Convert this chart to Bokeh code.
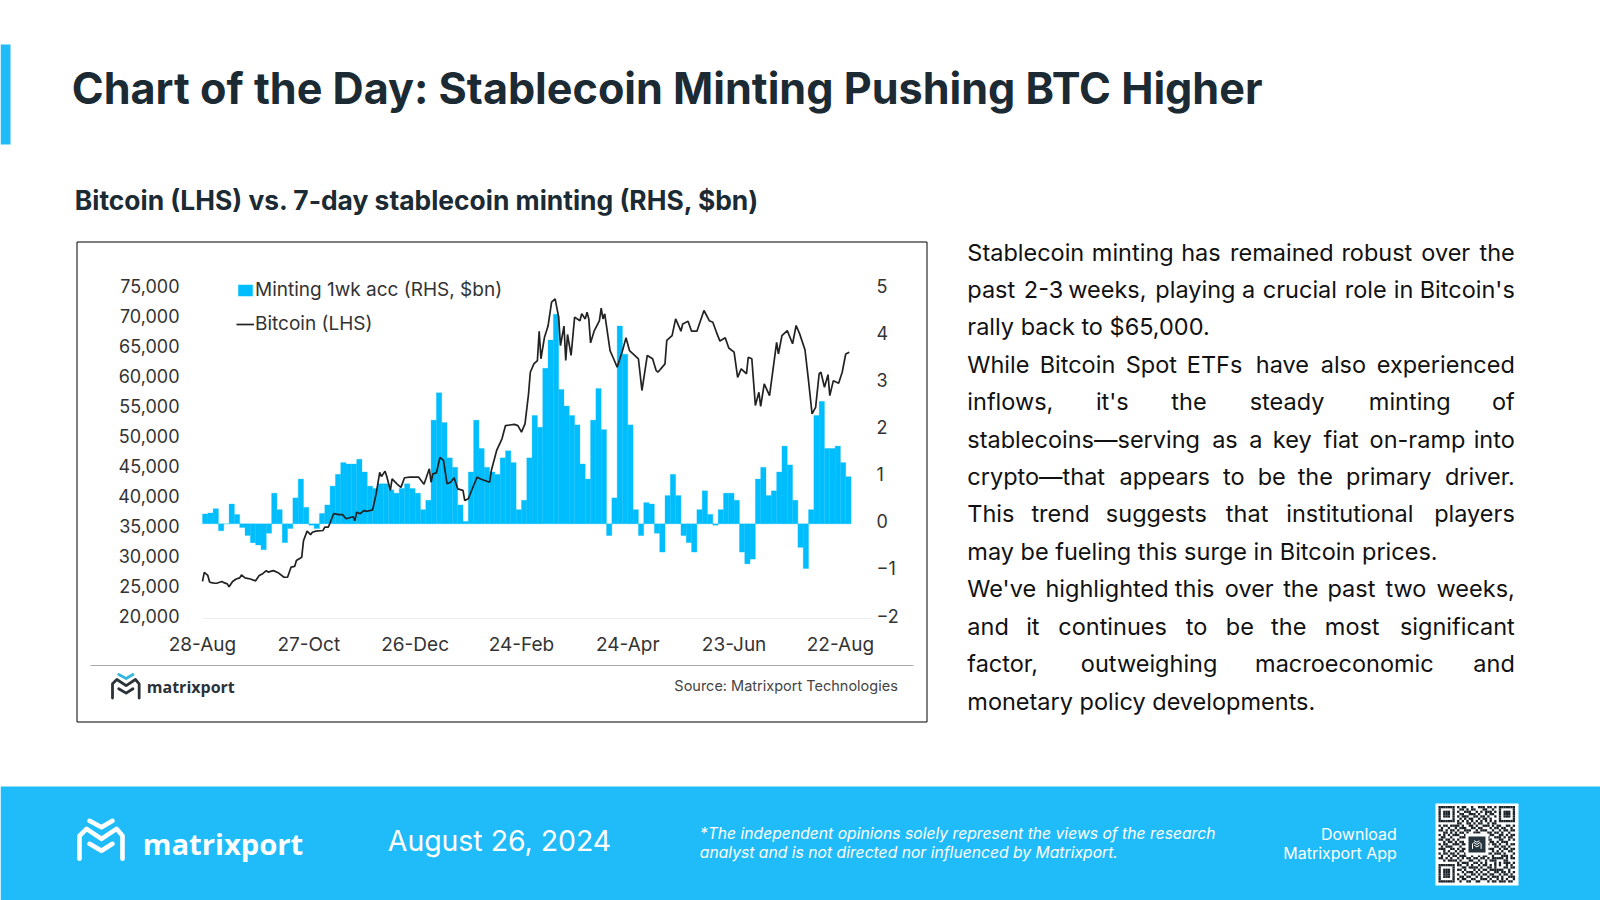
from bokeh.core.properties import value
from bokeh.embed import file_html
from bokeh.models import (FixedTicker, Legend, LegendItem, LinearAxis, NumeralTickFormatter,
                          Range1d)
from bokeh.plotting import figure
from bokeh.resources import INLINE

# chart data
tick_days = [0, 60, 120, 180, 240, 300, 360]
tick_labels = ["28-Aug", "27-Oct", "26-Dec", "24-Feb", "24-Apr", "23-Jun", "22-Aug"]
btc_ticks = [20000, 25000, 30000, 35000, 40000, 45000, 50000, 55000, 60000, 65000, 70000, 75000]
mint_ticks = [-2, -1, 0, 1, 2, 3, 4, 5]

# 3-day buckets of the 1wk minting, $bn
mint_values = [
    0.21, 0.23, 0.32, -0.15, 0.0, 0.42, 0.2, -0.08, -0.25, -0.4, -0.45, -0.55, -0.2, 0.65, 0.3,
    -0.4, -0.1, 0.55, 0.95, 0.35, -0.03, -0.1, 0.22, 0.4, 0.8, 1.05, 1.3, 1.27, 1.27, 1.37, 1.1,
    0.8, 0.75, 0.85, 0.85, 0.72, 0.65, 0.75, 0.85, 0.75, 0.65, 0.3, 0.5, 2.2, 2.78, 2.15, 1.4,
    1.2, 0.4, 0.05, 1.1, 2.2, 1.6, 1.2, 1.1, 1.05, 1.4, 1.55, 1.3, 0.3, 0.5, 1.4, 2.3, 2.05, 3.3,
    3.9, 4.45, 2.85, 2.5, 2.3, 2.1, 1.27, 0.95, 2.2, 2.87, 2.0, -0.25, 0.55, 4.2, 3.6, 2.1, 0.3,
    -0.25, 0.45, 0.42, -0.2, -0.6, 0.6, 1.05, 0.6, -0.25, -0.4, -0.6, 0.3, 0.7, 0.2, -0.03, 0.3,
    0.65, 0.65, 0.5, -0.6, -0.85, -0.75, 0.95, 1.2, 0.6, 0.7, 1.1, 1.65, 1.25, 0.5, -0.5, -0.95,
    0.3, 2.3, 2.6, 1.6, 1.6, 1.65, 1.3, 1.0,
]
mint_days = [1.5 + 3 * i for i in range(len(mint_values))]

btc_days = [
    0, 1, 3, 4, 5, 7, 8, 11, 12, 14, 15, 17, 19, 21, 22, 24, 27, 30, 32, 34, 36, 37, 40, 43, 46, 48,
    50, 52, 53, 56, 57, 59, 61, 62, 64, 68, 69, 71, 74, 77, 79, 81, 85, 86, 87, 89, 91, 93, 96, 98,
    100, 101, 103, 104, 106, 107, 110, 112, 114, 117, 122, 125, 128, 129, 130, 132, 134, 136, 138,
    140, 142, 144, 147, 148, 150, 153, 155, 157, 162, 163, 166, 169, 171, 176, 178, 180, 182, 184,
    185, 187, 189, 190, 191, 193, 195, 197, 199, 201, 202, 204, 205, 206, 208, 210, 213, 214, 216,
    217, 218, 219, 221, 224, 225, 226, 227, 230, 232, 234, 237, 239, 241, 246, 248, 251, 254, 256,
    257, 261, 262, 265, 267, 270, 271, 274, 276, 279, 283, 286, 288, 290, 292, 295, 297, 300, 302,
    304, 307, 308, 310, 312, 314, 315, 317, 320, 324, 325, 327, 330, 333, 335, 337, 340, 342, 344,
    346, 348, 349, 351, 353, 354, 356, 359, 361, 363, 365,
]
btc_values = [
    26100, 27600, 27100, 26000, 25900, 25800, 25800, 26100, 25900, 25700, 25200, 26100, 26500,
    26700, 27200, 26700, 26500, 26200, 27100, 27400, 27900, 27650, 27900, 27500, 26800, 26800,
    28500, 28600, 29600, 30150, 32900, 34500, 33900, 34300, 34500, 34600, 35150, 35150, 37400,
    37250, 37250, 36550, 36900, 36250, 37650, 37400, 37900, 37800, 38050, 40700, 44300, 43600,
    44500, 43600, 41300, 43200, 42300, 41800, 43400, 43500, 43500, 42300, 44900, 42650, 44050,
    44200, 46800, 46300, 42400, 42650, 43400, 41550, 41300, 39600, 39900, 42100, 43500, 43200,
    42650, 44600, 47950, 49900, 52100, 52300, 52100, 51000, 52400, 57400, 61000, 62400, 62950,
    67850, 63250, 66850, 68700, 72700, 73250, 70200, 65450, 68700, 62950, 67300, 63800, 70200,
    69600, 70750, 69900, 71000, 69900, 65900, 67850, 69600, 71700, 69900, 70750, 64600, 63250,
    61850, 64600, 66750, 64600, 63250, 57950, 63800, 63250, 61300, 61000, 62400, 66300, 67100,
    69900, 67850, 69050, 69500, 67850, 67850, 71300, 69600, 69350, 67700, 66200, 66750, 65050,
    64350, 60150, 61550, 60750, 63500, 63250, 55450, 57650, 55300, 59050, 57100, 66000, 64050,
    67100, 67950, 65750, 68800, 67400, 64750, 59600, 54050, 55150, 60750, 61000, 58500, 60600,
    57100, 59600, 59150, 61000, 64050, 64350,
]

TITLE = "Chart of the Day: Stablecoin Minting Pushing BTC Higher"
SUBTITLE = "Bitcoin (LHS) vs. 7-day stablecoin minting (RHS, $bn)"
BODY = [
    ("Stablecoin minting has remained robust over the", True),
    ("past 2-3 weeks, playing a crucial role in Bitcoin's", True),
    ("rally back to $65,000.", False),
    ("While Bitcoin Spot ETFs have also experienced", True),
    ("inflows, it's the steady minting of", True),
    ("stablecoins\u2014serving as a key fiat on-ramp into", True),
    ("crypto\u2014that appears to be the primary driver.", True),
    ("This trend suggests that institutional players", True),
    ("may be fueling this surge in Bitcoin prices.", False),
    ("We've highlighted this over the past two weeks,", True),
    ("and it continues to be the most significant", True),
    ("factor, outweighing macroeconomic and", True),
    ("monetary policy developments.", False),
]
QR = [
    "111111101011001001110110101111111", "100000100110101100011001001000001",
    "101110101001110010101110101011101", "101110100110011101001011001011101",
    "101110101011100110110100101011101", "100000100101011001011010001000001",
    "111111101010101010101010101111111", "000000001100110101100101100000000",
    "101101111010011010011101011001101", "010010010111001101100010110110010",
    "110101101001110010111001001011011", "001101010110100111000110110100100",
    "101010111001011001101011001101011", "011001000111100110010100111010110",
    "110110101000110101010110001100101", "001011010110001011001011010111000",
    "101100111011010100110101101001011", "010111000100111011011000110110100",
    "111001101011001100100111001011011", "001010010110110011011001010100110",
    "101101101001010110100110111010001", "010010110111001001011001000111010",
    "110101001010110110110101111101011", "001011110100011001001011100011000",
    "000000001011100110101000101011101", "111111101100101001011010101001010",
    "100000100011011110100110100011011", "101110101101000101011011111100100",
    "101110100010111010100100110110101", "101110101001001101011011001011010",
    "101110100110110010100101110100111", "100000101011001100111010010101001",
    "111111100100110011000101101110110",
]

BLUE = "#1fbcf9"
CYAN = "#00bdfd"
DARK = "#1b2a33"
FONT = "Inter"

# the frame is the whole page, so the chart scales are set to land on the picture's plot area
W, H = 1600, 900
PX_DAY = 1.772
X0 = 202
BTC_PX = 0.005994
BTC_Y0 = 617.5
MINT_PX = 47.1
MINT_Y0 = 523.3
LABEL_UP = 2.5  # tick labels sit a bit above their value in the original

x_range = Range1d((0 - X0) / PX_DAY, (W - X0) / PX_DAY)
y_range = Range1d(20000 - (H - BTC_Y0) / BTC_PX, 20000 + BTC_Y0 / BTC_PX)

p = figure(width=W, height=H, output_backend="svg", toolbar_location=None, tools="",
           x_range=x_range, y_range=y_range, x_axis_location=None, y_axis_location=None,
           min_border=0, outline_line_color=None)
p.grid.visible = False
p.extra_y_ranges["rhs"] = Range1d((MINT_Y0 - H) / MINT_PX, MINT_Y0 / MINT_PX)
p.extra_y_ranges["lhs_labels"] = Range1d(y_range.start - LABEL_UP / BTC_PX, y_range.end - LABEL_UP / BTC_PX)
p.extra_y_ranges["rhs_labels"] = Range1d((MINT_Y0 - H - LABEL_UP) / MINT_PX, (MINT_Y0 - LABEL_UP) / MINT_PX)
p.extra_x_ranges["page"] = Range1d(0, W)
p.extra_y_ranges["page"] = Range1d(H, 0)
PAGE = dict(x_range_name="page", y_range_name="page")


def box(x0, y0, x1, y1, fill, line=None):
    p.quad(left=[x0], right=[x1], top=[y0], bottom=[y1], fill_color=fill, line_color=line, **PAGE)


def put(x, y, text, size, color="#111111", style="normal", align="left", font=FONT):
    p.text(x=[x - 0.7], y=[y - 1], text=[text], text_font=value(font), text_font_size=f"{size}px",
           text_font_style=style, text_color=color, text_align=align,
           text_baseline="middle", **PAGE)


def logo(ox, oy, s, top, body, width):
    legs = [(0, 30), (0, 7), (7, 0), (22, 10), (37, 0), (43, 7), (43, 30)]
    chev1 = [(10, -8), (22, -1.5), (33, -8)]
    chev2 = [(10, 15), (22, 22), (33, 15)]
    for pts, col in ((legs, body), (chev1, top), (chev2, body)):
        p.line([ox + a * s for a, b in pts], [oy + b * s for a, b in pts], line_color=col,
               line_width=width, line_join="round", line_cap="round", **PAGE)


# top of the slide
box(0, 44, 10, 144, BLUE)
put(72, 88, TITLE, 43.15, DARK, "bold")
put(75, 200, SUBTITLE, 26.4, DARK, "bold")

# chart card
box(76.5, 241.5, 926.5, 721.5, "white", "#000000")
p.line([90, 913], [665, 665], line_color="#a8a8a8", line_width=1.2, **PAGE)
logo(112, 679, 0.62, "#35b8dc", "#2b3238", 2.8)
put(147, 687, "matrixport", 16, "#2b3238", "bold", font="Open Sans")
put(898, 686, "Source: Matrixport Technologies", 14.5, "#444444", align="right")

# bars and line
bars = p.vbar(x=mint_days, top=mint_values, bottom=0, width=3, y_range_name="rhs",
              fill_color=CYAN, line_color=CYAN, line_width=0.3)
btc = p.line(btc_days, btc_values, line_color="#222222", line_width=1.7)

axis_style = dict(major_tick_line_color=None, minor_tick_line_color=None,
                  major_label_text_font=FONT, major_label_text_color="#333333")
left = LinearAxis(fixed_location=(187 - X0) / PX_DAY, axis_line_color=None, y_range_name="lhs_labels",
                  ticker=FixedTicker(ticks=btc_ticks), formatter=NumeralTickFormatter(format="0,0"),
                  major_label_standoff=2, major_label_text_font_size="18px", **axis_style)
right = LinearAxis(fixed_location=(868 - X0) / PX_DAY, axis_line_color=None,
                   y_range_name="rhs_labels", ticker=FixedTicker(ticks=mint_ticks),
                   major_label_standoff=2, major_label_text_font_size="18px", **axis_style)
bottom = LinearAxis(fixed_location=20000, axis_line_color="#eeeeee",
                    bounds=(0, 378), ticker=FixedTicker(ticks=tick_days),
                    major_label_overrides=dict(zip(tick_days, tick_labels)),
                    major_label_standoff=9, major_label_text_font_size="19px", **axis_style)
p.add_layout(left, "left")
p.add_layout(right, "right")
p.add_layout(bottom, "below")

legend = Legend(items=[LegendItem(label="Minting 1wk acc (RHS, $bn)", renderers=[bars]),
                       LegendItem(label="Bitcoin (LHS)", renderers=[btc])],
                location=(236, 565), orientation="vertical", padding=0, margin=0, spacing=11,
                glyph_width=18, glyph_height=14, label_standoff=1, border_line_color=None,
                background_fill_color=None, label_text_font=FONT, label_text_font_size="19px",
                label_text_color="#333333")
p.add_layout(legend, "center")

# commentary, justified word by word
WIDE = {"m": .88, "w": .8, "M": .88, "W": 1.0, "\u2014": 1.0}
NARROW = {"i": .24, "l": .24, "j": .24, "t": .36, "f": .36, "r": .38, ",": .28, ".": .28, "'": .22, "-": .42}


def em_width(word):
    return sum(WIDE.get(c, NARROW.get(c, .64 if c.isupper() else .58)) for c in word)


BODY_SIZE = 23.5
for n, (line, justified) in enumerate(BODY):
    y = 252.5 + 37.42 * n
    if not justified:
        put(967.5, y, line, BODY_SIZE)
        continue
    words = line.split()
    widths = [em_width(w) * BODY_SIZE for w in words]
    gap = (1515 - 967.5 - sum(widths)) / (len(words) - 1)
    x = 967.5
    for w, width in zip(words[:-1], widths):
        put(x, y, w, BODY_SIZE)
        x += width + gap
    put(1515, y, words[-1], BODY_SIZE, align="right")

# footer
box(0, 786, W, H, BLUE)
logo(79, 828.3, 1.0, "white", "white", 4.6)
put(143, 844, "matrixport", 29.2, "white", "bold", font="Open Sans")
put(388, 841, "August 26, 2024", 28.4, "white")
put(700, 834, "*The independent opinions solely represent the views of the research", 15.7, "white", "italic")
put(700, 853, "analyst and is not directed nor influenced by Matrixport.", 15.7, "white", "italic")
put(1397, 834, "Download", 16, "white", align="right")
put(1397, 853, "Matrixport App", 16, "white", align="right")

# qr code
box(1435, 803, 1518, 885, "white")
cell = 2.32
qx = [1438 + c * cell for r in QR for c, v in enumerate(r) if v == "1"]
qy = [805.5 + i * cell for i, r in enumerate(QR) for v in r if v == "1"]
p.quad(left=qx, right=[a + cell for a in qx], top=qy, bottom=[b + cell for b in qy],
       fill_color="#1a2228", line_color=None, **PAGE)
box(1465, 833, 1488, 855, "white")
box(1468, 836, 1485, 852, "#26343d")
logo(1472, 842, 0.2, "white", "white", 1)

open("out.html", "w").write(file_html(p, INLINE))
